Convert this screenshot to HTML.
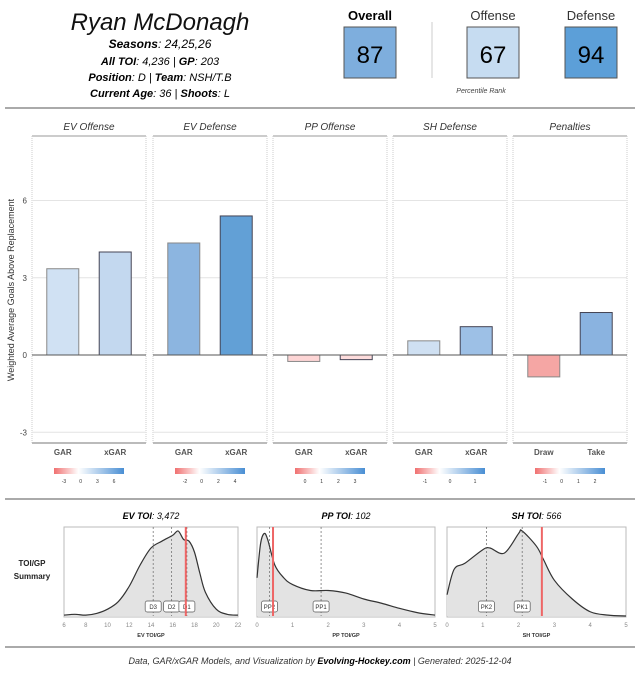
<!DOCTYPE html>
<html><head><meta charset="utf-8"><style>
body{margin:0;background:#fff;font-family:"Liberation Sans",sans-serif}
svg{display:block}
text{font-family:"Liberation Sans",sans-serif}
</style></head><body>
<svg id="c" width="640" height="680" viewBox="0 0 640 680" xmlns="http://www.w3.org/2000/svg">
<g>
<text x="160" y="30" text-anchor="middle" font-size="24" font-style="italic" fill="#111">Ryan McDonagh</text>
<text x="160" y="48" text-anchor="middle" font-size="12" font-style="italic"><tspan font-weight="bold">Seasons</tspan>: 24,25,26</text>
<text x="160" y="65" text-anchor="middle" font-size="11" font-style="italic"><tspan font-weight="bold">All TOI</tspan>: 4,236 | <tspan font-weight="bold">GP</tspan>: 203</text>
<text x="160" y="81" text-anchor="middle" font-size="11" font-style="italic"><tspan font-weight="bold">Position</tspan>: D | <tspan font-weight="bold">Team</tspan>: NSH/T.B</text>
<text x="160" y="97" text-anchor="middle" font-size="11" font-style="italic"><tspan font-weight="bold">Current Age</tspan>: 36 | <tspan font-weight="bold">Shoots</tspan>: L</text>
<text x="370" y="20" text-anchor="middle" font-size="13" font-weight="bold">Overall</text>
<rect x="344" y="27" width="52" height="51" fill="#7eaedd" stroke="#555"/>
<text x="370" y="63" text-anchor="middle" font-size="24">87</text>
<line x1="432" y1="22" x2="432" y2="78" stroke="#ccc"/>
<text x="493" y="20" text-anchor="middle" font-size="13" fill="#333">Offense</text>
<rect x="467" y="27" width="52" height="51" fill="#c6dcf1" stroke="#555"/>
<text x="493" y="63" text-anchor="middle" font-size="24">67</text>
<text x="591" y="20" text-anchor="middle" font-size="13" fill="#333">Defense</text>
<rect x="565" y="27" width="52" height="51" fill="#5c9fd8" stroke="#555"/>
<text x="591" y="63" text-anchor="middle" font-size="24">94</text>
<text x="481" y="93" text-anchor="middle" font-size="7" font-style="italic" fill="#444">Percentile Rank</text>
<line x1="5" y1="108" x2="635" y2="108" stroke="#aaa" stroke-width="2"/>
</g>
<text transform="translate(14,290) rotate(-90)" text-anchor="middle" font-size="9" fill="#333">Weighted Average Goals Above Replacement</text>
<g id="bars"></g>
<line x1="5" y1="499" x2="635" y2="499" stroke="#aaa" stroke-width="2"/>
<text x="32" y="566" text-anchor="middle" font-size="8" font-weight="bold" fill="#222"><tspan x="32">TOI/GP</tspan><tspan x="32" dy="13">Summary</tspan></text>
<g id="dens"></g>
<line x1="5" y1="647" x2="635" y2="647" stroke="#aaa" stroke-width="2"/>
<text x="320" y="664" text-anchor="middle" font-size="9" font-style="italic" fill="#333">Data, GAR/xGAR Models, and Visualization by <tspan font-weight="bold" fill="#000">Evolving-Hockey.com</tspan> | Generated: 2025-12-04</text>
</svg>
<script>
const NS="http://www.w3.org/2000/svg";
const panelTitles=["EV Offense","EV Defense","PP Offense","SH Defense","Penalties"];
const cat1=["GAR","GAR","GAR","GAR","Draw"];
const cat2=["xGAR","xGAR","xGAR","xGAR","Take"];
const vals1=[3.35,4.35,-0.25,0.55,-0.85];
const vals2=[4.0,5.4,-0.18,1.1,1.65];
const yTicks=[-3,0,3,6];
const legendTicks=[["-3","0","3","6"],["-2","0","2","4"],["0","1","2","3"],["-1","0","1"],["-1","0","1","2"]];
const fill1=["#d0e1f3","#8cb5e0","#fdd5d5","#cfe0f2","#f5a6a4"];
const fill2=["#c3d8ef","#62a0d6","#fddcdc","#9dc0e6","#8ab3e0"];
function el(t,a,p){const e=document.createElementNS(NS,t);for(const k in a)e.setAttribute(k,a[k]);p.appendChild(e);return e;}
const y=v=>355-v*25.75;
const bars=document.getElementById('bars');
const defs=el('defs',{},bars);
const gr=el('linearGradient',{id:'lg'},defs);
[["0","#f07070"],["0.35","#ffffff"],["1","#4a8fd4"]].forEach(s=>el('stop',{offset:s[0],'stop-color':s[1]},gr));
const px=[32,153,273,393,513],pw=114;
panelTitles.forEach((t,i)=>{
  const x0=px[i];
  const g=el('g',{},bars);
  
  
  const tt=el('text',{x:x0+pw/2,y:130,'text-anchor':'middle','font-size':10,'font-style':'italic',fill:'#333'},g);tt.textContent=t;
  
  el('line',{x1:x0,x2:x0+pw,y1:136,y2:136,stroke:'#999'},g);
  el('line',{x1:x0,x2:x0,y1:136,y2:443,stroke:'#ccc','stroke-dasharray':'1,1'},g);
  el('line',{x1:x0+pw,x2:x0+pw,y1:136,y2:443,stroke:'#ccc','stroke-dasharray':'1,1'},g);
  yTicks.forEach(v=>{if(v!==0)el('line',{x1:x0,x2:x0+pw,y1:y(v),y2:y(v),stroke:'#e4e4e4'},g);});
  el('line',{x1:x0,x2:x0+pw,y1:443,y2:443,stroke:'#bbb','stroke-width':2},g);
  [[vals1[i],cat1[i],fill1[i],0.27],[vals2[i],cat2[i],fill2[i],0.73]].forEach(([v,c,f,fr],j)=>{
    const cx=x0+pw*fr;
    const r=el('rect',{x:cx-16,y:Math.min(y(v),y(0)),width:32,height:Math.abs(y(v)-y(0)),fill:f,stroke:j?'#445':'#888','stroke-width':1},g);
    
    
    const lt=el('text',{x:cx,y:455,'text-anchor':'middle','font-size':8,'font-weight':'bold',fill:'#555'},g);lt.textContent=c;
  });
  el('line',{x1:x0,x2:x0+pw,y1:y(0),y2:y(0),stroke:'#555'},g);
  const lx=x0+pw/2-35;
  const lg=el('rect',{x:lx,y:468,width:70,height:6,fill:'url(#lg)'},g);
  
  const lt=legendTicks[i];
  lt.forEach((s,k)=>{const tx=el('text',{x:lx+10+k*(50/Math.max(1,lt.length-1)),y:483,'text-anchor':'middle','font-size':5,fill:'#333'},g);tx.textContent=s;});
});
yTicks.forEach(v=>{const tx=el('text',{x:27,y:y(v)+3,'text-anchor':'end','font-size':8,fill:'#444'},bars);tx.textContent=v;});

const densTitles=[["EV TOI",": 3,472"],["PP TOI",": 102"],["SH TOI",": 566"]];
const densAxis=["EV TOI/GP","PP TOI/GP","SH TOI/GP"];
const evX=[6,7,8,9,10,11,12,13,14,15,16,16.5,17,17.5,18,18.5,19,20,21,22];
const evY=[0.01,0.02,0.01,0.03,0.08,0.17,0.35,0.6,0.8,0.88,0.95,1.0,0.9,0.88,0.75,0.5,0.28,0.08,0.02,0.01];
const ppX=[0,0.1,0.2,0.3,0.5,0.75,1,1.5,2,2.5,3,3.5,4,4.5,5];
const ppY=[0.45,0.85,0.97,0.9,0.6,0.45,0.37,0.3,0.3,0.27,0.2,0.15,0.09,0.04,0.01];
const shX=[0,0.2,0.5,1,1.2,1.6,2,2.1,2.5,2.7,3,3.5,4,4.5,5];
const shY=[0.25,0.55,0.62,0.78,0.8,0.74,0.97,1.0,0.82,0.66,0.42,0.2,0.05,0.01,0.0];
const evRef=[14.2,15.9,17.3],evRefL=["D3","D2","D1"];
const ppRef=[0.35,1.8],ppRefL=["PP2","PP1"];
const shRef=[1.1,2.1],shRefL=["PK2","PK1"];
const player=[17.2,0.45,2.65];
const evT=[6,8,10,12,14,16,18,20,22],ppT=[0,1,2,3,4,5],shT=[0,1,2,3,4,5];
const D=[[evX,evY,evRef,evRefL,evT,6,22],[ppX,ppY,ppRef,ppRefL,ppT,0,5],[shX,shY,shRef,shRefL,shT,0,5]];
const dx=[64,257,447],dw=[174,178,179];
const dens=document.getElementById('dens');
D.forEach((d,i)=>{
  const [xs,ys,refs,refl,ticks,mn,mx]=d;
  const g=el('g',{},dens);
  
  
  const X=v=>dx[i]+(v-mn)/(mx-mn)*dw[i];
  const Y=v=>616-v*85;
  const t=el('text',{x:dx[i]+dw[i]/2,y:519,'text-anchor':'middle','font-size':9,'font-style':'italic'},g);
  t.innerHTML='<tspan font-weight="bold">'+densTitles[i][0]+'</tspan>'+densTitles[i][1];
  el('rect',{x:dx[i],y:527,width:dw[i],height:90,fill:'#fff',stroke:'#bbb'},g);
  let pts=xs.map((v,k)=>[X(v),Y(ys[k])]);
  let dpath='M'+pts[0][0]+','+pts[0][1];
  for(let k=1;k<pts.length;k++){
    const p0=pts[Math.max(0,k-2)],p1=pts[k-1],p2=pts[k],p3=pts[Math.min(pts.length-1,k+1)];
    const c1=[p1[0]+(p2[0]-p0[0])/6,p1[1]+(p2[1]-p0[1])/6],c2=[p2[0]-(p3[0]-p1[0])/6,p2[1]-(p3[1]-p1[1])/6];
    dpath+=' C'+c1[0]+','+c1[1]+' '+c2[0]+','+c2[1]+' '+p2[0]+','+p2[1];
  }
  const a=el('path',{d:dpath+' L'+pts[pts.length-1][0]+',616 L'+pts[0][0]+',616Z',fill:'#e3e3e3'},g);
  
  const l=el('path',{d:dpath,fill:'none',stroke:'#333','stroke-width':1.2},g);
  
  refs.forEach((r,k)=>{
    el('line',{x1:X(r),x2:X(r),y1:527,y2:616,stroke:'#666','stroke-dasharray':'2,2','stroke-width':0.7},g);
    const b=el('rect',{x:X(r)-8,y:601,width:16,height:11,rx:2,fill:'#fff',stroke:'#555','stroke-width':0.7},g);
    
    const tx=el('text',{x:X(r),y:609,'text-anchor':'middle','font-size':6,fill:'#333'},g);tx.textContent=refl[k];
  });
  const pl=el('line',{x1:X(player[i]),x2:X(player[i]),y1:527,y2:616,stroke:'#ee6666','stroke-width':2},g);
  
  ticks.forEach(v=>{const tx=el('text',{x:X(v),y:627,'text-anchor':'middle','font-size':6,fill:'#888'},g);tx.textContent=v;});
  const at=el('text',{x:dx[i]+dw[i]/2,y:637,'text-anchor':'middle','font-size':5.5,'font-weight':'bold',fill:'#333'},g);at.textContent=densAxis[i];
});
</script>
</body></html>
